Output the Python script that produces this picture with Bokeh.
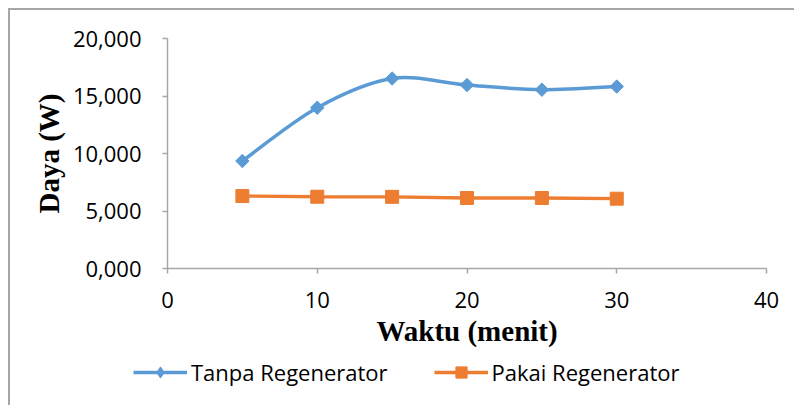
import numpy as np
from bokeh.plotting import figure
from bokeh.models import (Range1d, FixedTicker, Legend, LegendItem, ColumnDataSource)
from bokeh.embed import file_html
from bokeh.resources import INLINE

# ---- data ----
waktu = [5, 10, 15, 20, 25, 30]
tanpa_regenerator = [9.35, 13.98, 16.52, 15.95, 15.55, 15.82]
pakai_regenerator = [6.30, 6.24, 6.23, 6.13, 6.13, 6.07]
x_ticks = [0, 10, 20, 30, 40]
y_ticks = [0, 5, 10, 15, 20]
y_tick_labels = ["0,000", "5,000", "10,000", "15,000", "20,000"]
series_names = ["Tanpa Regenerator", "Pakai Regenerator"]
x_title = "Waktu (menit)"
y_title = "Daya (W)"

BLUE = "#5B9BD5"
ORANGE = "#ED7D31"
AXIS = "#A6A6A6"
TICK_FONT = "Open Sans"
TITLE_FONT = "Liberation Serif"

p = figure(frame_width=599, frame_height=230, output_backend="svg", toolbar_location=None,
           x_range=Range1d(0, 40), y_range=Range1d(0, 20),
           min_border_left=157, min_border_right=28, min_border_top=28,
           min_border_bottom=90)
p.styles = {"border-left": "2px solid #A6A6A6", "border-top": "2px solid #A6A6A6",
            "margin-left": "8px", "margin-top": "8px"}
p.outline_line_color = None
p.xgrid.visible = False
p.ygrid.visible = False
p.background_fill_color = "white"
p.border_fill_color = "white"

for ax in (p.xaxis[0], p.yaxis[0]):
    ax.axis_line_color = AXIS
    ax.axis_line_width = 1.5
    ax.major_tick_line_color = AXIS
    ax.major_tick_line_width = 1.5
    ax.major_tick_in = 0
    ax.major_tick_out = 5
    ax.minor_tick_line_color = None
    ax.major_label_text_font = TICK_FONT
    ax.major_label_text_font_size = "22px"
    ax.major_label_text_color = "#000000"
    ax.axis_label_text_font = TITLE_FONT
    ax.axis_label_text_font_style = "bold"
    ax.axis_label_text_font_size = "29px"
    ax.axis_label_text_color = "#000000"

p.xaxis[0].ticker = FixedTicker(ticks=x_ticks)
p.yaxis[0].ticker = FixedTicker(ticks=y_ticks)
p.yaxis[0].major_label_overrides = {t: l for t, l in zip(y_ticks, y_tick_labels)}
p.xaxis[0].axis_label = x_title
p.yaxis[0].axis_label = y_title
p.yaxis[0].major_label_standoff = 21
p.yaxis[0].axis_label_standoff = 5
p.xaxis[0].major_label_standoff = 18
p.xaxis[0].axis_label_standoff = 4

# smooth (Excel-like) curve for the first series via cubic Bezier segments
xs = np.array(waktu, dtype=float)
ys = np.array(tanpa_regenerator, dtype=float)
n = len(xs)
x0, y0, x1, y1, cx0, cy0, cx1, cy1 = ([] for _ in range(8))
for i in range(n - 1):
    im1 = max(i - 1, 0)
    ip2 = min(i + 2, n - 1)
    x0.append(xs[i]); y0.append(ys[i])
    x1.append(xs[i + 1]); y1.append(ys[i + 1])
    cx0.append(xs[i] + (xs[i + 1] - xs[im1]) / 6.0)
    cy0.append(ys[i] + (ys[i + 1] - ys[im1]) / 6.0)
    cx1.append(xs[i + 1] - (xs[ip2] - xs[i]) / 6.0)
    cy1.append(ys[i + 1] - (ys[ip2] - ys[i]) / 6.0)
bsrc = ColumnDataSource(dict(x0=x0, y0=y0, x1=x1, y1=y1, cx0=cx0, cy0=cy0, cx1=cx1, cy1=cy1))


def draw_series(fig, with_rotated=True):
    bl = fig.bezier(x0="x0", y0="y0", x1="x1", y1="y1", cx0="cx0", cy0="cy0",
                    cx1="cx1", cy1="cy1", source=bsrc, line_color=BLUE, line_width=3.5)
    bd = fig.scatter(waktu, tanpa_regenerator, marker="diamond", size=11,
                     fill_color=BLUE, line_color=BLUE)
    if with_rotated:
        fig.scatter(waktu, tanpa_regenerator, marker="square", angle=np.pi / 4,
                    size=9.5, fill_color=BLUE, line_color=BLUE)
    ol = fig.line(waktu, pakai_regenerator, line_color=ORANGE, line_width=3.3)
    osq = fig.scatter(waktu, pakai_regenerator, marker="square", size=13,
                      fill_color=ORANGE, line_color=ORANGE)
    return bl, bd, ol, osq


draw_series(p)

# legend strip below the chart (its own frame, same series, data kept out of view)
pl = figure(width=784, height=47, output_backend="svg", toolbar_location=None,
            x_range=Range1d(1000, 1001), y_range=Range1d(1000, 1001),
            x_axis_location=None, y_axis_location=None, min_border=0)
pl.styles = {"border-left": "2px solid #A6A6A6", "margin-left": "8px"}
pl.outline_line_color = None
pl.xgrid.visible = False
pl.ygrid.visible = False
pl.border_fill_color = "white"
pl.background_fill_color = "white"
bl, bd, ol, osq = draw_series(pl, with_rotated=False)

legend = Legend(items=[
    LegendItem(label=series_names[0], renderers=[bl, bd]),
    LegendItem(label=series_names[1], renderers=[ol, osq]),
], orientation="horizontal", location=(123, 18))
legend.glyph_width = 54
legend.glyph_height = 28
legend.label_standoff = 4
legend.spacing = 46
legend.padding = 0
legend.margin = 0
legend.border_line_color = None
legend.background_fill_alpha = 0
legend.label_text_font = TICK_FONT
legend.label_text_font_size = "22px"
legend.label_text_color = "#000000"
pl.add_layout(legend, "center")

open("out.html", "w").write(file_html([p, pl], INLINE))
